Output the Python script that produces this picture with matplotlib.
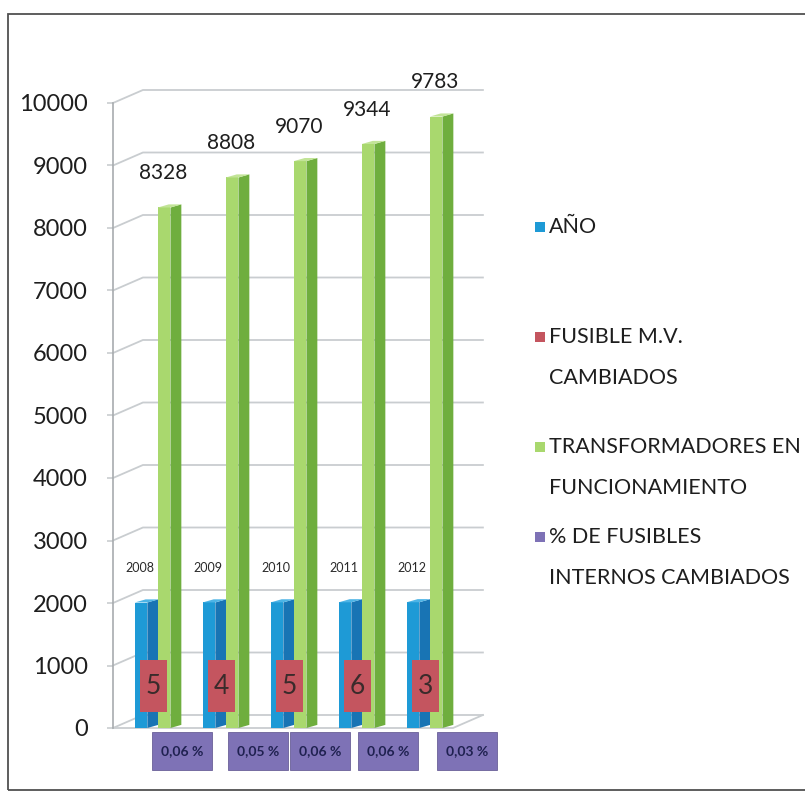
import matplotlib.pyplot as plt
from matplotlib.patches import Polygon, Rectangle

# Fusibles M.V. cambiados vs transformadores en funcionamiento, 2008-2012
anios = [2008, 2009, 2010, 2011, 2012]
fusibles = [5, 4, 5, 6, 3]
transformadores = [8328, 8808, 9070, 9344, 9783]
pct_internos = [0.06, 0.05, 0.06, 0.06, 0.03]
pct_labels = ['0,06 %', '0,05 %', '0,06 %', '0,06 %', '0,03 %']
yticks = list(range(0, 10001, 1000))

legend_labels = [['AÑO'],
                 ['FUSIBLE M.V.', 'CAMBIADOS'],
                 ['TRANSFORMADORES EN', 'FUNCIONAMIENTO'],
                 ['% DE FUSIBLES', 'INTERNOS CAMBIADOS']]

plt.rcParams['font.family'] = ['Lato', 'DejaVu Sans']

c_blue, c_blue_side, c_blue_top = '#1E9AD6', '#1874B4', '#4DB4E6'
c_red = '#C4555F'
c_green, c_green_side, c_green_top = '#A9D86E', '#6FAE3E', '#C2E497'
c_purple = '#7E72B6'
c_grid = '#C9CDD0'

W, H = 805, 796
fig = plt.figure(figsize=(W / 100, H / 100), dpi=100)
fig.patch.set_facecolor('white')

# front plane of the 3d box: x in categories, y in units
ax = fig.add_axes([113 / W, 68 / H, 340 / W, 625 / H])
ax.set_xlim(0, 5)
ax.set_ylim(0, 10000)
ax.patch.set_alpha(0)
for s in ['top', 'right', 'bottom']:
    ax.spines[s].set_visible(False)
ax.spines['left'].set_color('#A8ACAF')
ax.spines['left'].set_linewidth(1.2)
ax.set_xticks([])
ax.set_yticks(yticks)
ax.set_yticklabels([str(t) for t in yticks])
ax.tick_params(axis='y', length=4, width=1.2, color=c_grid, pad=14,
               labelsize=17, labelcolor='#1E1E1E')

# depth of walls (categories, units)
dxw, dyw = 0.44, 208
nx = len(anios)
for t in yticks:
    ax.plot([0, dxw, nx + dxw], [t, t + dyw, t + dyw], color=c_grid,
            lw=1.3, clip_on=False, zorder=1)
# floor edges
ax.plot([0, nx, nx + dxw], [0, 0, dyw], color=c_grid, lw=1.3,
        clip_on=False, zorder=1)

# bar depth
dxb, dyb = 0.16, 50
bw = 0.185


def bar3d(xs, vals, front, side, top):
    ax.bar(xs, vals, width=bw, align='edge', color=front, lw=0, zorder=3)
    for x0, v in zip(xs, vals):
        x1 = x0 + bw
        ax.add_patch(Polygon([(x1, 0), (x1 + dxb, dyb), (x1 + dxb, v + dyb), (x1, v)],
                             closed=True, fc=side, lw=0, zorder=3, clip_on=False))
        ax.add_patch(Polygon([(x0, v), (x1, v), (x1 + dxb, v + dyb), (x0 + dxb, v + dyb)],
                             closed=True, fc=top, lw=0, zorder=3, clip_on=False))


pos = list(range(nx))
bar3d([i + 0.32 for i in pos], anios, c_blue, c_blue_side, c_blue_top)
ax.bar([i + 0.51 for i in pos], fusibles, width=0.15, align='edge', color=c_red, lw=0, zorder=2)
bar3d([i + 0.66 for i in pos], transformadores, c_green, c_green_side, c_green_top)
ax.bar([i + 0.84 for i in pos], pct_internos, width=0.16, align='edge', color=c_purple, lw=0, zorder=2)

# data labels
for i, v in enumerate(anios):
    ax.text(i + 0.40, v + 550, str(v), ha='center', va='center', fontsize=9,
            color='#2A2A2A', zorder=5, clip_on=False)
for i, v in enumerate(transformadores):
    ax.text(i + 0.74, v + 545, str(v), ha='center', va='center', fontsize=15,
            color='#1E1E1E', zorder=5, clip_on=False)

# red label boxes (fusibles) and purple boxes (% internos) under the floor
rw, rh = 0.40, 832
for i, v in enumerate(fusibles):
    cx, cy = i + 0.59, 672
    ax.add_patch(Rectangle((cx - rw / 2, cy - rh / 2), rw, rh, fc=c_red, ec='none', zorder=6))
    ax.text(cx, cy, str(v), ha='center', va='center', fontsize=19,
            color='#3A2B2B', zorder=7)
nudge = [0.10, 0.21, 0.13, 0.12, 0.29]
pw, ph = 0.88, 608
for i, lab in enumerate(pct_labels):
    cx, cy = i + 0.92 + nudge[i], -368
    ax.add_patch(Rectangle((cx - pw / 2, cy - ph / 2), pw, ph, fc=c_purple,
                           ec='#6A6098', lw=0.6, zorder=6, clip_on=False))
    ax.text(cx, cy, lab, ha='center', va='center', fontsize=10,
            fontweight='bold', color='#1F2150', zorder=7, clip_on=False)

# legend
leg_colors = [c_blue, c_red, c_green, c_purple]
leg_y = [227, 337, 447, 537]
for col, lines, y in zip(leg_colors, legend_labels, leg_y):
    fig.add_artist(Rectangle((535 / W, 1 - (y + 5) / H), 10 / W, 10 / H,
                             transform=fig.transFigure, fc=col, ec='none'))
    for k, line in enumerate(lines):
        fig.text(549 / W, 1 - (y + 41 * k) / H, line, ha='left', va='center',
                 fontsize=15.5, color='#1E1E1E')

# outer frame
fig.add_artist(Rectangle((8 / W, 1 - 790 / H), 1.2, (790 - 14) / H,
                         transform=fig.transFigure, fill=False, ec='#505050', lw=1.3))

plt.savefig('out.png', dpi=100)
